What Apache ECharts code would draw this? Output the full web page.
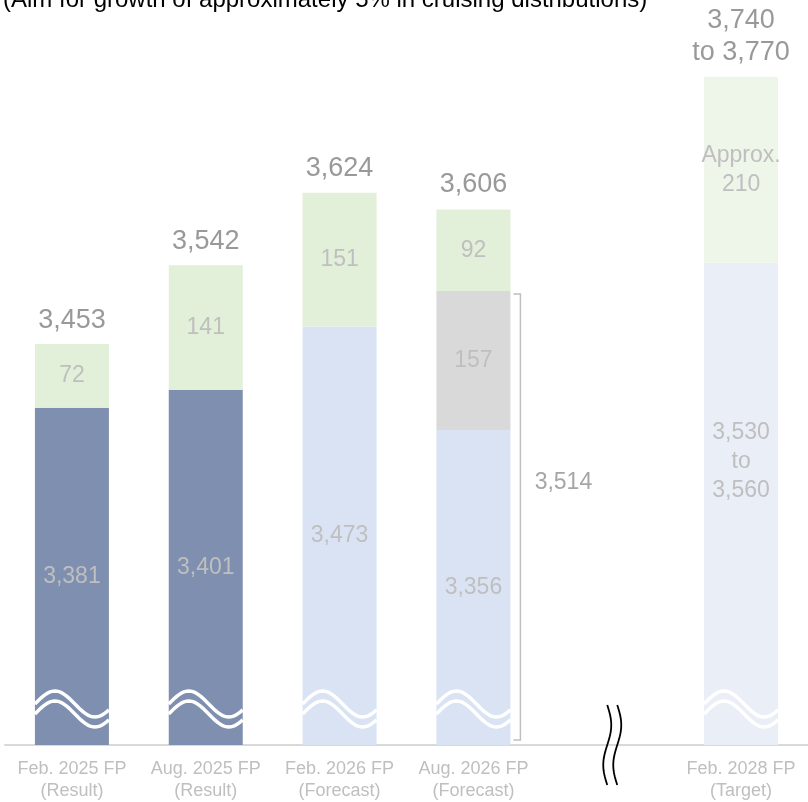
<!DOCTYPE html>
<html>
<head>
<meta charset="utf-8">
<style>
  html, body { margin: 0; padding: 0; background: #fff; }
  #main { width: 808px; height: 802px; }
</style>
<script src="https://cdn.jsdelivr.net/npm/echarts@6/dist/echarts.min.js"></script>
</head>
<body>
<div id="main"></div>
<script>
// categories (index 4 is the gap where the time axis is broken)
var categories = ['Feb. 2025 FP\n(Result)', 'Aug. 2025 FP\n(Result)', 'Feb. 2026 FP\n(Forecast)',
  'Aug. 2026 FP\n(Forecast)', '', 'Feb. 2028 FP\n(Target)'];
var baseValues = [3381, 3401, 3473, 3356, null, 3545];
var extraValues = [null, null, null, 157, null, null];
var growthValues = [72, 141, 151, 92, null, 210];
var totalValues = [3453, 3542, 3624, 3606, null, 3755];
var baseLabels = ['3,381', '3,401', '3,473', '3,356', '', '3,530\nto\n3,560'];
var extraLabels = ['', '', '', '157', '', ''];
var growthLabels = ['72', '141', '151', '92', '', 'Approx.\n210'];
var totalLabels = ['3,453', '3,542', '3,624', '3,606', '', '3,740\nto 3,770'];
var bracketValue = 3514;
var bracketLabel = '3,514';
var axisFloor = 3000;
var titleText = '(Aim for growth of approximately 5% in cruising distributions)';

var FONT = 'Liberation Sans';
var BAR_W = 74;
// colours by category: results dark, forecasts light, target lighter
var baseColors = ['#7f8faf', '#7f8faf', '#dae3f3', '#dae3f3', '#dae3f3', '#e9eef7'];
var growthColors = ['#e2efd9', '#e2efd9', '#e2efd9', '#e2efd9', '#e2efd9', '#eef5e9'];

var chart = echarts.init(document.getElementById('main'));

function segLabel(texts) {
  return {
    show: true,
    position: 'inside',
    color: '#bfbfbf',
    fontFamily: FONT,
    fontSize: 23,
    lineHeight: 29,
    formatter: function (p) { return texts[p.dataIndex]; }
  };
}

// white double wave at the foot of each bar (broken value axis)
function renderWave(params, api) {
  var idx = api.value(0);
  var foot = api.coord([idx, axisFloor]);
  var left = foot[0] - BAR_W / 2;
  var children = [];
  [41, 31].forEach(function (up) {
    var pts = [];
    for (var dx = 0; dx <= BAR_W; dx += 2) {
      pts.push([left + dx, foot[1] - up - 13 * Math.sin(2 * Math.PI * dx / 80)]);
    }
    children.push({
      type: 'polyline',
      shape: { points: pts },
      style: { stroke: '#fff', lineWidth: 3.5, fill: null }
    });
  });
  return { type: 'group', children: children };
}

// black double squiggle marking the break in time
function renderBreak(params, api) {
  var c = api.coord([api.value(0), axisFloor]);
  var children = [];
  [0, 10].forEach(function (off) {
    var pts = [];
    for (var dy = -40; dy <= 40; dy += 2) {
      pts.push([c[0] + off + 4 * Math.sin(2 * Math.PI * (dy + 40) / 80), c[1] + dy]);
    }
    children.push({
      type: 'polyline',
      shape: { points: pts },
      style: { stroke: '#000', lineWidth: 1.8, fill: null }
    });
  });
  return { type: 'group', children: children };
}

// bracket beside the Aug. 2026 bar
function renderBracket(params, api) {
  var top = api.coord([api.value(0), api.value(1)]);
  var bot = api.coord([api.value(0), axisFloor]);
  var x = top[0] + BAR_W / 2 + 10;
  var y1 = top[1] + 4, y2 = bot[1] - 5;
  return {
    type: 'group',
    children: [{
      type: 'polyline',
      shape: { points: [[x - 7, y1], [x, y1], [x, y2], [x - 7, y2]] },
      style: { stroke: '#bfbfbf', lineWidth: 1.5, fill: null }
    }, {
      type: 'text',
      style: {
        text: bracketLabel, x: x + 43, y: (y1 + y2) / 2 - 34,
        align: 'center', verticalAlign: 'middle',
        fill: '#a6a6a6', font: '23px ' + FONT
      }
    }]
  };
}

var option = {
  animation: false,
  backgroundColor: '#fff',
  grid: { left: 5, right: -5, top: 37, bottom: 57, containLabel: false },
  graphic: [{
    type: 'text', left: 3, top: -12,
    style: { text: titleText, fill: '#000', font: '24px ' + FONT }
  }],
  xAxis: {
    type: 'category',
    data: categories,
    axisLine: { lineStyle: { color: '#d9d9d9', width: 2 } },
    axisTick: { show: false },
    axisLabel: {
      interval: 0, color: '#bfbfbf', fontFamily: FONT, fontSize: 18,
      lineHeight: 22, margin: 13
    }
  },
  yAxis: {
    type: 'value', min: axisFloor, max: 3800, show: false,
    splitLine: { show: false }
  },
  series: [{
    type: 'bar', stack: 'a', barWidth: BAR_W,
    data: baseValues.map(function (v, i) {
      return i === 5 ? { value: v, label: { offset: [0, -42] } } : v;
    }),
    itemStyle: { color: function (p) { return baseColors[p.dataIndex]; } },
    label: segLabel(baseLabels)
  }, {
    type: 'bar', stack: 'a', barWidth: BAR_W,
    data: extraValues,
    itemStyle: { color: '#d9d9d9' },
    label: segLabel(extraLabels)
  }, {
    type: 'bar', stack: 'a', barWidth: BAR_W,
    data: growthValues,
    itemStyle: { color: function (p) { return growthColors[p.dataIndex]; } },
    label: segLabel(growthLabels)
  }, {
    type: 'scatter', symbolSize: 0,
    data: totalValues.map(function (v, i) { return [i, v]; }),
    label: {
      show: true, position: 'top', distance: 8,
      color: '#7f7f7f', fontFamily: FONT, fontSize: 27, lineHeight: 32,
      formatter: function (p) { return totalLabels[p.dataIndex]; }
    }
  }, {
    type: 'custom', renderItem: renderWave, clip: false, z: 5,
    data: baseValues.map(function (v, i) { return v == null ? null : [i]; }).filter(Boolean)
  }, {
    type: 'custom', renderItem: renderBreak, clip: false, z: 5,
    data: [[4]]
  }, {
    type: 'custom', renderItem: renderBracket, clip: false, z: 5,
    data: [[3, bracketValue]]
  }]
};

chart.setOption(option);
window.onresize = function () { chart.resize(); };
</script>
</body>
</html>
